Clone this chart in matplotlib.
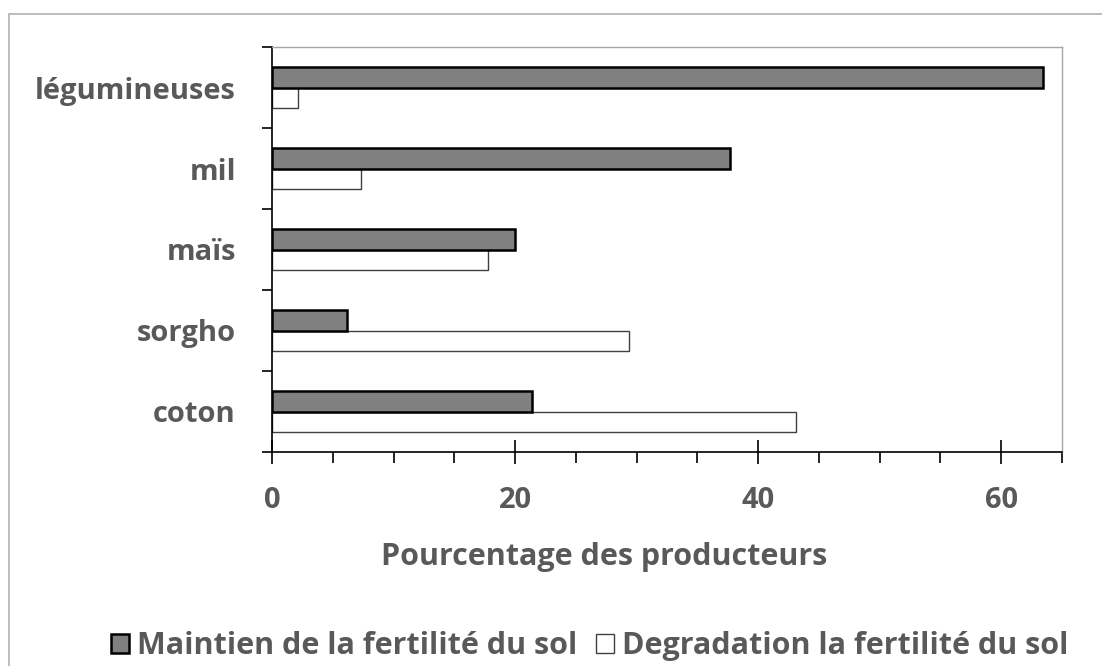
import matplotlib
matplotlib.use("Agg")
import matplotlib.pyplot as plt
import matplotlib.patches as mpatches
from matplotlib.ticker import MultipleLocator
import numpy as np

# Données, de haut en bas
cultures = ["légumineuses", "mil", "maïs", "sorgho", "coton"]
maintien = [63.4, 37.7, 20.0, 6.2, 21.4]
degradation = [2.1, 7.3, 17.8, 29.4, 43.1]

labels_serie = ["Maintien de la fertilité du sol",
                "Degradation la fertilité du sol"]

TEXT = "#595959"
plt.rcParams["font.family"] = ["Open Sans", "DejaVu Sans"]
plt.rcParams["font.weight"] = "bold"
plt.rcParams["axes.labelweight"] = "bold"

fig = plt.figure(figsize=(11.02, 6.66), dpi=100)
ax = fig.add_axes([272 / 1102, 1 - 452 / 666, 790 / 1102, 405 / 666])

# coton en bas, légumineuses en haut
y = np.arange(len(cultures))[::-1]
h = 0.25
ax.barh(y + h / 2, maintien, height=h, color="#808080",
        edgecolor="black", linewidth=1.8, label=labels_serie[0], zorder=3)
ax.barh(y - h / 2, degradation, height=h, color="white",
        edgecolor="#404040", linewidth=1.0, label=labels_serie[1], zorder=2)

ax.set_xlim(0, 65)
ax.set_ylim(-0.5, len(cultures) - 0.5)

ax.xaxis.set_major_locator(MultipleLocator(20))
ax.xaxis.set_minor_locator(MultipleLocator(5))
ax.tick_params(axis="x", which="major", direction="inout", length=17,
               width=1.2, color="black", labelsize=21, labelcolor=TEXT, pad=16)
ax.tick_params(axis="x", which="minor", direction="out", length=8,
               width=1.2, color="black")

ax.set_yticks(y)
ax.set_yticklabels(cultures)
ax.set_yticks(np.arange(-0.5, len(cultures)), minor=True)
ax.tick_params(axis="y", which="major", length=0, labelsize=21,
               labelcolor=TEXT, pad=26)
ax.tick_params(axis="y", which="minor", direction="out", length=7,
               width=1.2, color="black")

for s in ["left", "bottom"]:
    ax.spines[s].set_color("black")
    ax.spines[s].set_linewidth(1.2)
for s in ["top", "right"]:
    ax.spines[s].set_color("#a6a6a6")
    ax.spines[s].set_linewidth(1.0)

ax.set_xlabel("Pourcentage des producteurs", fontsize=22, color=TEXT)
ax.xaxis.set_label_coords((604 - 272) / 790, -0.222)

handles = [mpatches.Patch(facecolor="#808080", edgecolor="black", linewidth=1.8),
           mpatches.Patch(facecolor="white", edgecolor="#404040", linewidth=1.0)]
leg = fig.legend(handles, labels_serie, loc="center", ncol=2,
                 bbox_to_anchor=(0.535, 1 - 646 / 666), frameon=False,
                 fontsize=22, handlelength=0.6, handleheight=0.6,
                 handletextpad=0.25, columnspacing=0.6)
for t in leg.get_texts():
    t.set_color(TEXT)

# cadre extérieur du graphique
fig.patches.append(mpatches.Rectangle((9 / 1102, -0.1), 1.2, 1.1 - 14 / 666,
                                      transform=fig.transFigure, fill=False,
                                      edgecolor="#b0b0b0", linewidth=1.2))

fig.savefig("out.png", dpi=100)
